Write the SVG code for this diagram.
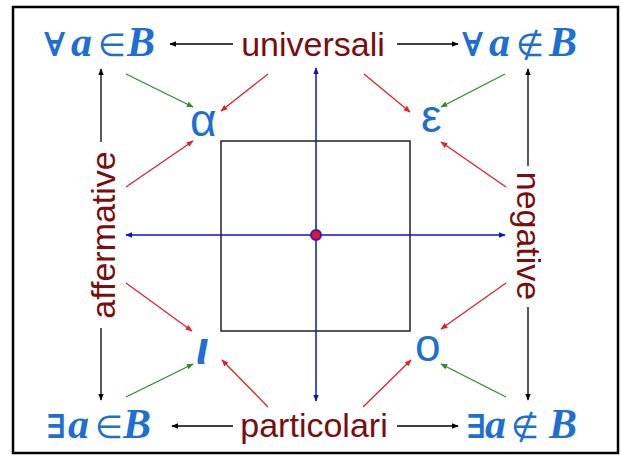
<svg xmlns="http://www.w3.org/2000/svg" width="621" height="462" viewBox="0 0 621 462">
<style>
.lbl{font-family:"Liberation Sans",Arial,sans-serif;font-size:34px;fill:#7a0d0d}
.f{font-family:"Liberation Serif","DejaVu Serif",serif;font-weight:bold;font-style:italic;font-size:42px;fill:#1e6fd2}
.q{font-family:"DejaVu Serif",serif;font-weight:bold;font-style:italic;font-size:33px;fill:#1e6fd2}
.sym{font-family:"DejaVu Sans",sans-serif;font-size:32px;fill:#1e6fd2}
.gr{font-family:"Liberation Sans",Arial,sans-serif;font-size:46px;fill:#1e6fd2}
.k{stroke:#000;stroke-width:1.3;fill:none}
.r{stroke:#e0202a;stroke-width:1.3;fill:none}
.g{stroke:#2e8b2e;stroke-width:1.3;fill:none}
.b{stroke:#1010c8;stroke-width:1.5;fill:none}
</style>
<defs>
<marker id="ak" viewBox="0 0 10 10" refX="9" refY="5" markerWidth="7" markerHeight="7" markerUnits="userSpaceOnUse" orient="auto"><path d="M0,1 L10,5 L0,9 z" fill="#000"/></marker>
<marker id="ar" viewBox="0 0 10 10" refX="9" refY="5" markerWidth="7" markerHeight="7" markerUnits="userSpaceOnUse" orient="auto"><path d="M0,1 L10,5 L0,9 z" fill="#e0202a"/></marker>
<marker id="ag" viewBox="0 0 10 10" refX="9" refY="5" markerWidth="7" markerHeight="7" markerUnits="userSpaceOnUse" orient="auto"><path d="M0,1 L10,5 L0,9 z" fill="#2e8b2e"/></marker>
<marker id="ab" viewBox="0 0 10 10" refX="9" refY="5" markerWidth="7" markerHeight="7" markerUnits="userSpaceOnUse" orient="auto"><path d="M0,1 L10,5 L0,9 z" fill="#1010c8"/></marker>
</defs>
<rect x="0" y="0" width="621" height="462" fill="#fff"/>
<rect x="13" y="7" width="605" height="446" fill="none" stroke="#000" stroke-width="2.5"/>

<g id="square"><rect x="221" y="141" width="189" height="190" fill="none" stroke="#222" stroke-width="1.5"/></g>

<g id="connectors">
<line class="b" x1="316" y1="235" x2="316" y2="68" marker-end="url(#ab)"/>
<line class="b" x1="316" y1="235" x2="316" y2="401" marker-end="url(#ab)"/>
<line class="b" x1="316" y1="235" x2="126" y2="235" marker-end="url(#ab)"/>
<line class="b" x1="316" y1="235" x2="505" y2="235" marker-end="url(#ab)"/>
<line class="k" x1="233" y1="44" x2="170" y2="44" marker-end="url(#ak)"/>
<line class="k" x1="397" y1="44" x2="458" y2="44" marker-end="url(#ak)"/>
<line class="k" x1="233" y1="426" x2="172" y2="426" marker-end="url(#ak)"/>
<line class="k" x1="397" y1="426" x2="458" y2="426" marker-end="url(#ak)"/>
<line class="k" x1="101" y1="142" x2="101" y2="69" marker-end="url(#ak)"/>
<line class="k" x1="101" y1="328" x2="101" y2="400" marker-end="url(#ak)"/>
<line class="k" x1="528" y1="166" x2="528" y2="69" marker-end="url(#ak)"/>
<line class="k" x1="528" y1="307" x2="528" y2="400" marker-end="url(#ak)"/>
<line class="g" x1="126" y1="74" x2="193" y2="107" marker-end="url(#ag)"/>
<line class="g" x1="505" y1="74" x2="441" y2="107" marker-end="url(#ag)"/>
<line class="g" x1="126" y1="397" x2="193" y2="364" marker-end="url(#ag)"/>
<line class="g" x1="506" y1="397" x2="441" y2="364" marker-end="url(#ag)"/>
<line class="r" x1="268" y1="74" x2="221" y2="111" marker-end="url(#ar)"/>
<line class="r" x1="364" y1="74" x2="410" y2="112" marker-end="url(#ar)"/>
<line class="r" x1="126" y1="187" x2="193" y2="141" marker-end="url(#ar)"/>
<line class="r" x1="506" y1="187" x2="441" y2="142" marker-end="url(#ar)"/>
<line class="r" x1="126" y1="283" x2="192" y2="331" marker-end="url(#ar)"/>
<line class="r" x1="506" y1="283" x2="441" y2="329" marker-end="url(#ar)"/>
<line class="r" x1="268" y1="407" x2="222" y2="360" marker-end="url(#ar)"/>
<line class="r" x1="363" y1="407" x2="411" y2="360" marker-end="url(#ar)"/>
</g>

<g id="center"><circle cx="316" cy="235" r="5" fill="#e8102a" stroke="#3020b0" stroke-width="2"/></g>

<g id="universali"><text class="lbl" x="313" y="56" text-anchor="middle">universali</text></g>
<g id="particolari"><text class="lbl" x="314" y="437" text-anchor="middle">particolari</text></g>
<g id="affermative"><text class="lbl" transform="translate(115,235) rotate(-90)" text-anchor="middle">affermative</text></g>
<g id="negative"><text class="lbl" transform="translate(517,236) rotate(90)" text-anchor="middle">negative</text></g>

<g id="allIn"><text y="56"><tspan class="q" x="44">∀</tspan><tspan class="f" x="71">a</tspan><tspan class="sym" x="98">∈</tspan><tspan class="f" x="127">B</tspan></text></g>
<g id="allNotIn"><text y="56"><tspan class="q" x="462">∀</tspan><tspan class="f" x="489">a</tspan><tspan class="sym" x="516">∉</tspan><tspan class="f" x="549">B</tspan></text></g>
<g id="existsIn"><text y="438"><tspan class="q" x="46">∃</tspan><tspan class="f" x="68">a</tspan><tspan class="sym" x="95">∈</tspan><tspan class="f" x="123">B</tspan></text></g>
<g id="existsNotIn"><text y="438"><tspan class="q" x="466">∃</tspan><tspan class="f" x="485">a</tspan><tspan class="sym" x="511">∉</tspan><tspan class="f" x="549">B</tspan></text></g>

<g id="alpha"><text class="gr" x="190" y="136">α</text></g>
<g id="epsilon"><text class="gr" x="421" y="132">ε</text></g>
<g id="iota"><text class="gr" x="196" y="364" font-style="italic" font-weight="bold">ι</text></g>
<g id="omicron"><text class="gr" x="415" y="361">ο</text></g>
</svg>
